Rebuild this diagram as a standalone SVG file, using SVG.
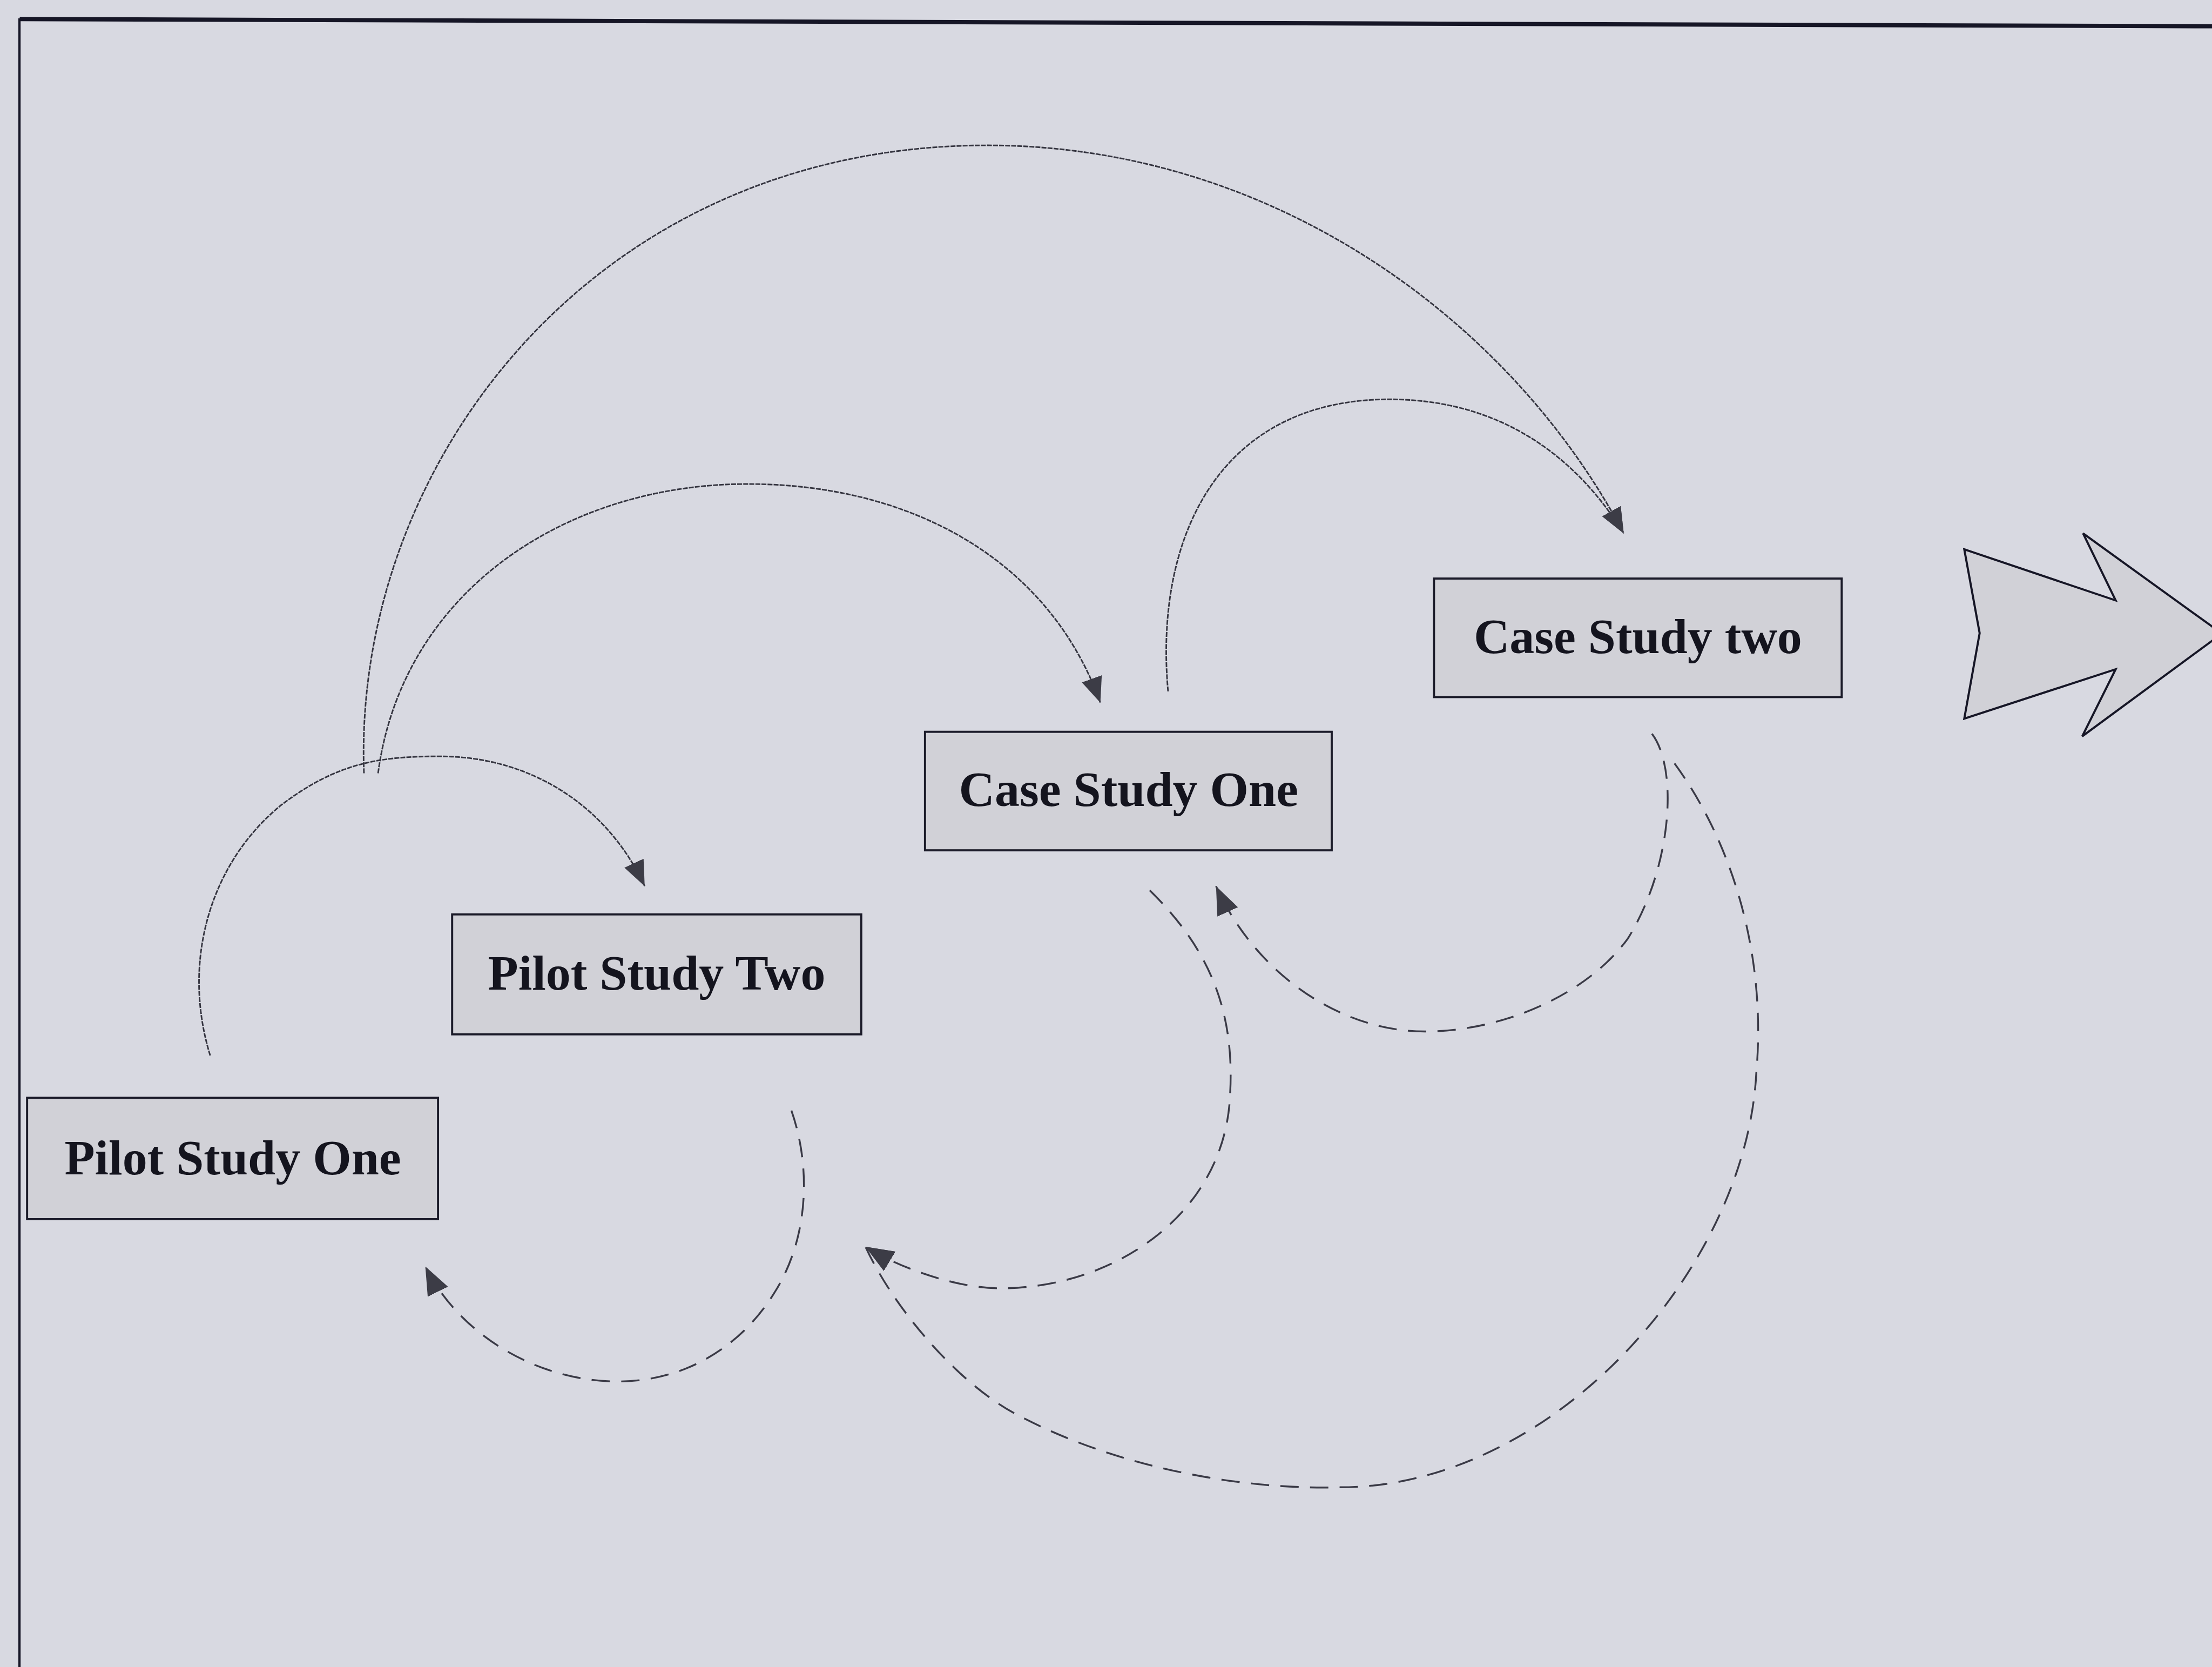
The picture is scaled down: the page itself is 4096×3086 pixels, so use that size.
<svg xmlns="http://www.w3.org/2000/svg" width="4096" height="3086" viewBox="0 0 4096 3086">
  <style>
    .box { fill: #d1d1d7; stroke: #1c1c2a; stroke-width: 1.5; }
    .label { font-family: "Liberation Serif", "Times New Roman", serif; font-weight: bold; font-size: 35.2px; fill: #14141e; text-anchor: middle; }
    .fwd { fill: none; stroke: #34343f; stroke-width: 1.1; stroke-dasharray: 3.5 0.8; }
    .back { fill: none; stroke: #3a3a46; stroke-width: 1.3; stroke-dasharray: 13 8; }
  </style>
  <defs>
    <marker id="ah" viewBox="0 0 18 15" refX="18" refY="7.5" markerWidth="18" markerHeight="15" markerUnits="userSpaceOnUse" orient="auto">
      <path d="M0,0 L18,7.5 L0,15 z" fill="#3c3c46"/>
    </marker>
    <marker id="ah-cs2" viewBox="0 0 18 15" refX="18" refY="7.5" markerWidth="18" markerHeight="15" markerUnits="userSpaceOnUse" orient="61">
      <path d="M0,0 L18,7.5 L0,15 z" fill="#3c3c46"/>
    </marker>
    <marker id="ah-back" viewBox="0 0 20 16" refX="20" refY="8" markerWidth="20" markerHeight="16" markerUnits="userSpaceOnUse" orient="auto">
      <path d="M0,0 L20,8 L0,16 z" fill="#3c3c46"/>
    </marker>
    <marker id="ah-ps2" viewBox="0 0 20 16" refX="20" refY="8" markerWidth="20" markerHeight="16" markerUnits="userSpaceOnUse" orient="211">
      <path d="M0,0 L20,8 L0,16 z" fill="#3c3c46"/>
    </marker>
  </defs>

  <rect width="4096" height="3086" fill="#d8d9e1"/>

  <g transform="scale(2.612245)">
    <!-- page frame: top rule and left rule -->
    <g id="frame">
      <line x1="14" y1="13.5" x2="1570" y2="18.6" stroke="#161626" stroke-width="3"/>
      <line x1="13.8" y1="13" x2="13.8" y2="1185" stroke="#161626" stroke-width="1.6"/>
    </g>

    <!-- connectors -->
    <g id="connectors">
      <!-- forward: Pilot Study One to Pilot Study Two -->
      <path class="fwd" d="M149,748 C128,680 150,610 200,570 C240,540 270,536 312,536 C375,536 430,570 457,628" marker-end="url(#ah)"/>
      <!-- forward: Pilot studies to Case Study two (outer arc) -->
      <path class="fwd" d="M258,548 C250,330 420,103 700,103 C900,103 1070,225 1151,378" marker-end="url(#ah-cs2)"/>
      <!-- forward: Pilot studies to Case Study One -->
      <path class="fwd" d="M268,548 C285,420 400,343 530,343 C650,343 745,400 780,498" marker-end="url(#ah)"/>
      <!-- forward: Case Study One to Case Study two -->
      <path class="fwd" d="M828,490 C818,380 865,283 985,283 C1060,283 1115,320 1151,378" marker-end="url(#ah-cs2)"/>

      <!-- feedback: Case Study two to Case Study One -->
      <path class="back" d="M1171,520 C1190,545 1185,615 1154,665 C1125,705 1065,731 1010,731 C950,731 890,690 862,628" marker-end="url(#ah-back)"/>
      <!-- feedback: Case Study two to Pilot Study Two (outer) -->
      <path class="back" d="M1187,541 C1230,600 1252,680 1245,760 C1238,900 1100,1054 950,1054 C880,1056 790,1040 718,1001 C680,980 635,930 613.5,883.5" marker-end="url(#ah-ps2)"/>
      <!-- feedback: Case Study One to Pilot Study Two -->
      <path class="back" d="M815,631 C860,675 875,720 872,775 C869,860 790,913 709,913 C680,913 640,900 613.5,883.5" marker-end="url(#ah-ps2)"/>
      <!-- feedback: Pilot Study Two to Pilot Study One -->
      <path class="back" d="M561,787 C576,830 572,880 549,916 C525,955 485,979 438,979 C380,979 325,945 301.5,897.5" marker-end="url(#ah-back)"/>
    </g>

    <g id="pilot-study-one">
      <rect class="box" x="19.2" y="778" width="291.3" height="86"/>
      <text class="label" x="165" y="832.4">Pilot Study One</text>
    </g>
    <g id="pilot-study-two">
      <rect class="box" x="320.5" y="648" width="290" height="85"/>
      <text class="label" x="465.5" y="701.5">Pilot Study Two</text>
    </g>
    <g id="case-study-one">
      <rect class="box" x="655.7" y="518.6" width="288.3" height="84"/>
      <text class="label" x="800" y="571">Case Study One</text>
    </g>
    <g id="case-study-two">
      <rect class="box" x="1016.5" y="410" width="289" height="84"/>
      <text class="label" x="1161" y="463">Case Study two</text>
    </g>

    <!-- outcome arrow on the right -->
    <g id="outcome-arrow">
      <path d="M1392.4,389.3 L1499.7,425.5 L1476.6,378 L1575,449 L1476,521.8 L1499.7,474.3 L1392.4,509.3 L1403.3,448.7 Z" fill="#d1d1d7" stroke="#161626" stroke-width="1.5" stroke-linejoin="miter"/>
    </g>
  </g>
</svg>
